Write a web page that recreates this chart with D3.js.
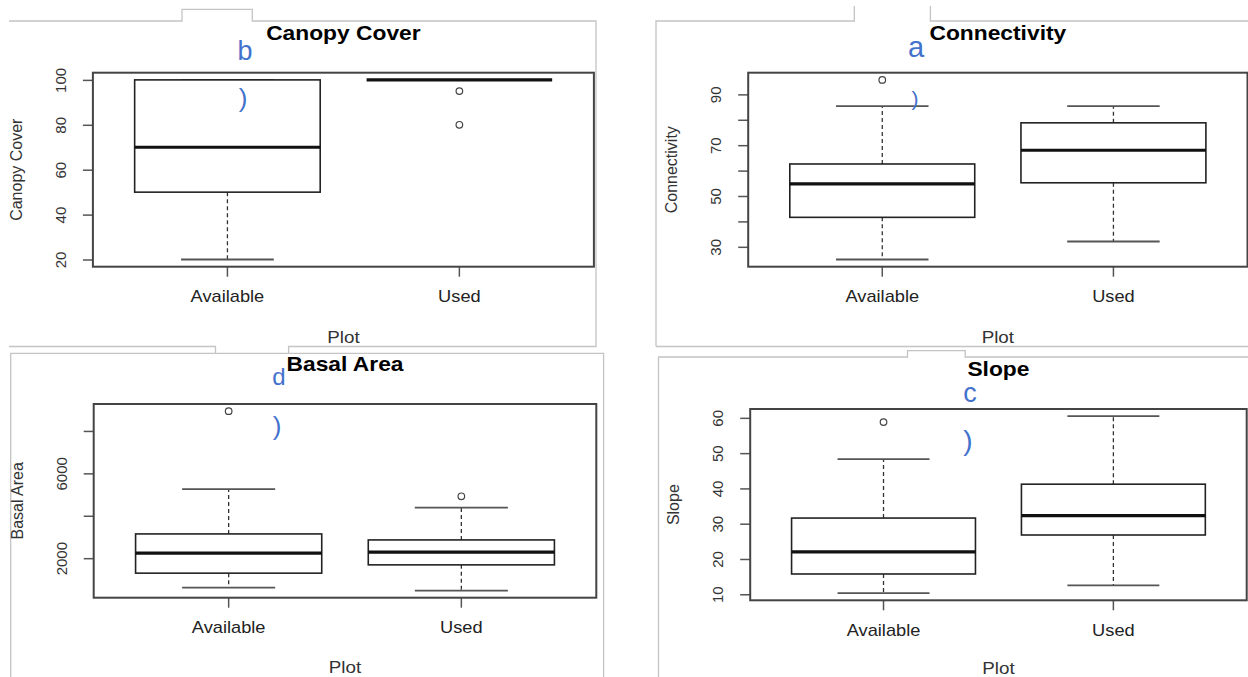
<!DOCTYPE html>
<html><head><meta charset="utf-8">
<script src="https://cdn.jsdelivr.net/npm/d3@7"></script>
<style>body{margin:0;background:#fff}svg{display:block}text{font-family:"Liberation Sans",Arial,Helvetica,sans-serif}</style>
</head><body><svg id="chart" width="1248" height="677"></svg>
<script>
// ---------- DATA ----------
const groups = ["Available", "Used"];
const xAxisTitle = "Plot";
const titles = ["Canopy Cover", "Connectivity", "Basal Area", "Slope"];
const yAxisTitles = ["Canopy Cover", "Connectivity", "Basal Area", "Slope"];
const letters = ["b", "a", "d", "c"];

// five-number summaries: [lower whisker, Q1, median, Q3, upper whisker]
const canopyAvailable = [20, 50, 70, 100, 100];
const canopyUsed = [100, 100, 100, 100, 100];
const canopyOutliersAvailable = [];
const canopyOutliersUsed = [95, 80];
const canopyTicks = [20, 40, 60, 80, 100];
const canopyTickLabels = [20, 40, 60, 80, 100];

const connAvailable = [25, 41.6, 54.8, 62.6, 85.4];
const connUsed = [32.1, 55.2, 68, 78.8, 85.4];
const connOutliersAvailable = [95.7];
const connOutliersUsed = [];
const connTicks = [30, 40, 50, 60, 70, 80, 90];
const connTickLabels = [30, 50, 70, 90];

const basalAvailable = [616, 1294, 2235, 3144, 5261];
const basalUsed = [475, 1685, 2282, 2861, 4381];
const basalOutliersAvailable = [8932];
const basalOutliersUsed = [4918];
const basalTicks = [2000, 4000, 6000, 8000];
const basalTickLabels = [2000, 6000];

const slopeAvailable = [10.3, 15.75, 22.0, 31.6, 48.3];
const slopeUsed = [12.5, 26.8, 32.3, 41.2, 60.5];
const slopeOutliersAvailable = [58.8];
const slopeOutliersUsed = [];
const slopeTicks = [10, 20, 30, 40, 50, 60];
const slopeTickLabels = [10, 20, 30, 40, 50, 60];

// ---------- LAYOUT ----------
const svg = d3.select("#chart");
svg.append("rect").attr("width", 1248).attr("height", 677).attr("fill", "#fff");

const SX = 1.14; // horizontal stretch seen in the picture's text
const frameColor = "#c4c4c4";
const frames = svg.append("g").attr("fill", "none").attr("stroke", frameColor).attr("stroke-width", 1.3);
frames.append("path").attr("d", "M9,21H182V9.3H252.3V21H596V346.5H288.6V353.3M215.5,353.3V346.5H9");
frames.append("path").attr("d", "M10.7,677V353.3H603.6V677");
frames.append("path").attr("d", "M656,346.5V21H854.3V6M930.4,6V21H1248M656,346.5H1248");
frames.append("path").attr("d", "M658.5,677V357H907.5V350.7H965.2V357H1248");

const panels = [
  {L: 92.9, R: 593.9, T: 72.7, B: 266.7, stats: [canopyAvailable, canopyUsed], out: [canopyOutliersAvailable, canopyOutliersUsed], ticks: canopyTicks, labels: canopyTickLabels,
   letter: {x: 245, y: 60, s: 27}, paren: {x: 243, y: 107, s: 26}, plotY: 76},
  {L: 748.2, R: 1247.5, T: 72.7, B: 266.7, stats: [connAvailable, connUsed], out: [connOutliersAvailable, connOutliersUsed], ticks: connTicks, labels: connTickLabels,
   letter: {x: 916, y: 57, s: 29}, paren: {x: 915, y: 106, s: 21}, plotY: 76},
  {L: 93.7, R: 596.3, T: 404, B: 597.7, stats: [basalAvailable, basalUsed], out: [basalOutliersAvailable, basalOutliersUsed], ticks: basalTicks, labels: basalTickLabels,
   letter: {x: 279, y: 385, s: 24}, paren: {x: 277, y: 434.5, s: 26}, plotY: 75.5},
  {L: 750.2, R: 1246.7, T: 409, B: 600.3, stats: [slopeAvailable, slopeUsed], out: [slopeOutliersAvailable, slopeOutliersUsed], ticks: slopeTicks, labels: slopeTickLabels,
   letter: {x: 970, y: 401.7, s: 27}, paren: {x: 968, y: 450, s: 28}, plotY: 73.5}
];

panels.forEach((p, i) => {
  const g = svg.append("g");
  const all = p.stats.flat().concat(p.out.flat());
  const lo = d3.min(all), hi = d3.max(all), r = hi - lo;
  const y = d3.scaleLinear().domain([lo - 0.04 * r, hi + 0.04 * r]).range([p.B, p.T]);
  const x = d3.scaleBand().domain(groups).range([p.L, p.R]).paddingInner(0.2).paddingOuter(0.18);
  const bw = x.bandwidth();

  // y axis
  const ya = g.append("g").attr("transform", `translate(${p.L},0)`)
    .call(d3.axisLeft(y).tickValues(p.ticks).tickSize(10).tickFormat(d => p.labels.includes(d) ? d : ""));
  ya.select(".domain").remove();
  ya.selectAll(".tick line").attr("stroke", "#555").attr("stroke-width", 1.5);
  ya.selectAll(".tick text").attr("x", 0).attr("dy", 0).attr("transform", "translate(-27,0) rotate(-90)")
    .attr("text-anchor", "middle").attr("font-size", 15).attr("fill", "#333")
    .attr("font-family", '"Liberation Sans",Arial,sans-serif');

  // x axis
  const xa = g.append("g").attr("transform", `translate(0,${p.B})`)
    .call(d3.axisBottom(x).tickSize(10));
  xa.select(".domain").remove();
  xa.selectAll(".tick line").attr("stroke", "#555").attr("stroke-width", 1.5);
  xa.selectAll(".tick text").attr("x", 0).attr("y", 35.3).attr("dy", 0).attr("transform", `scale(${SX},1)`)
    .attr("font-size", 16).attr("fill", "#222").attr("text-anchor", "middle")
    .attr("font-family", '"Liberation Sans",Arial,sans-serif');

  // boxes
  groups.forEach((grp, k) => {
    const s = p.stats[k];
    const x0 = x(grp), cx = x0 + bw / 2;
    const bg = g.append("g");
    // whiskers
    bg.append("line").attr("x1", cx).attr("x2", cx).attr("y1", y(s[3])).attr("y2", y(s[4]))
      .attr("stroke", "#333").attr("stroke-width", 1.3).attr("stroke-dasharray", "4,3");
    bg.append("line").attr("x1", cx).attr("x2", cx).attr("y1", y(s[1])).attr("y2", y(s[0]))
      .attr("stroke", "#333").attr("stroke-width", 1.3).attr("stroke-dasharray", "4,3");
    // staples
    [s[0], s[4]].forEach(v => bg.append("line").attr("x1", cx - bw / 4).attr("x2", cx + bw / 4)
      .attr("y1", y(v)).attr("y2", y(v)).attr("stroke", "#555").attr("stroke-width", 1.8));
    // box
    bg.append("rect").attr("x", x0).attr("width", bw).attr("y", y(s[3])).attr("height", y(s[1]) - y(s[3]))
      .attr("fill", "#fff").attr("stroke", "#222").attr("stroke-width", 1.6);
    // median
    bg.append("line").attr("x1", x0).attr("x2", x0 + bw).attr("y1", y(s[2])).attr("y2", y(s[2]))
      .attr("stroke", "#111").attr("stroke-width", 3.2);
    // outliers
    p.out[k].forEach(v => bg.append("circle").attr("cx", cx).attr("cy", y(v)).attr("r", 3.3)
      .attr("fill", "none").attr("stroke", "#444").attr("stroke-width", 1.2));
  });

  // plot frame
  g.append("rect").attr("x", p.L).attr("y", p.T).attr("width", p.R - p.L).attr("height", p.B - p.T)
    .attr("fill", "none").attr("stroke", "#444").attr("stroke-width", 2);

  const cxm = (p.L + p.R) / 2;
  // title
  g.append("text").attr("transform", `translate(${cxm},${p.T - 33}) scale(${SX},1)`)
    .attr("text-anchor", "middle").attr("font-size", 20).attr("font-weight", "bold").attr("fill", "#000")
    .text(titles[i]);
  // x title
  g.append("text").attr("transform", `translate(${cxm},${p.B + p.plotY}) scale(${SX},1)`)
    .attr("text-anchor", "middle").attr("font-size", 16.5).attr("fill", "#333").text(xAxisTitle);
  // y title
  g.append("text").attr("transform", `translate(${p.L - 71},${(p.T + p.B) / 2}) rotate(-90)`)
    .attr("text-anchor", "middle").attr("font-size", 16).attr("fill", "#333").text(yAxisTitles[i]);
  // blue annotations
  g.append("text").attr("x", p.letter.x).attr("y", p.letter.y).attr("text-anchor", "middle")
    .attr("font-size", p.letter.s).attr("fill", "#4372cc").text(letters[i]);
  g.append("text").attr("x", p.paren.x).attr("y", p.paren.y).attr("text-anchor", "middle")
    .attr("font-size", p.paren.s).attr("fill", "#4372cc").text(")");
});
</script>
</body></html>
